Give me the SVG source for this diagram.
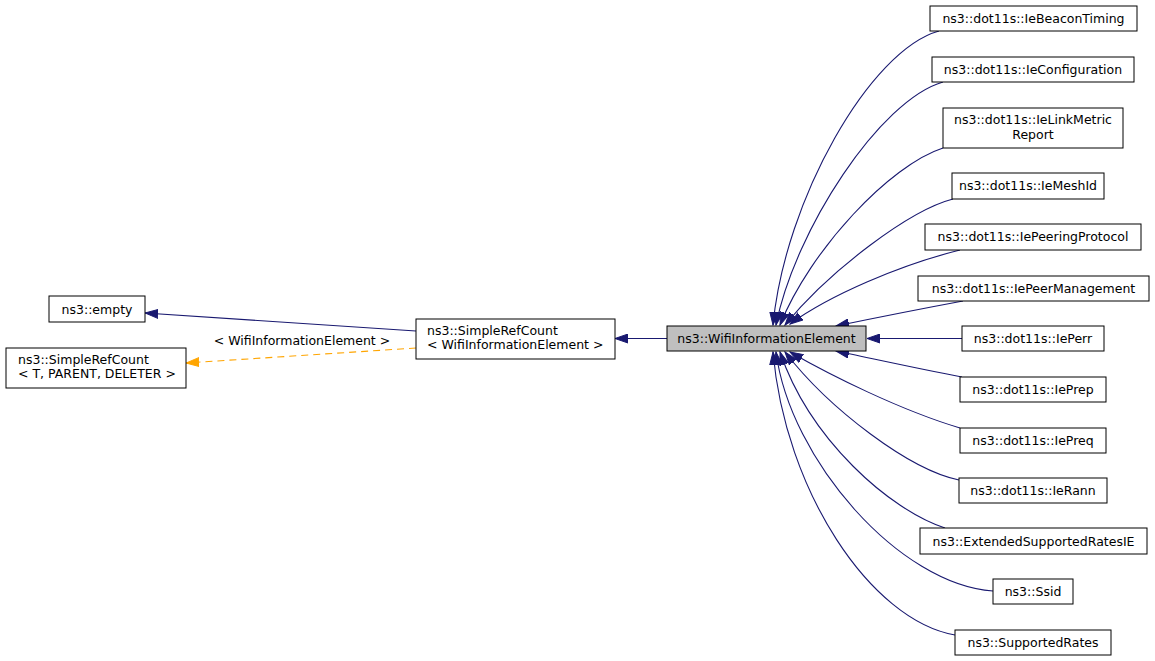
<svg xmlns="http://www.w3.org/2000/svg" width="1155" height="661" viewBox="0 0 1155 661">
<style>
.n rect{fill:#ffffff;stroke:#000000;stroke-width:1}
.n.cur rect{fill:#bfbfbf}
.n text{font-family:"DejaVu Sans","Liberation Sans",sans-serif;font-size:12.5px;fill:#000000}
.c{text-anchor:middle}
.e{fill:none;stroke:#191970;stroke-width:1.1;marker-end:url(#ab)}
.d{fill:none;stroke:#ffa500;stroke-width:1.1;stroke-dasharray:7,5;marker-end:url(#ao)}
.lbl{font-family:"DejaVu Sans","Liberation Sans",sans-serif;font-size:12.5px;fill:#000000;text-anchor:middle}
</style>
<defs>
<marker id="ab" markerUnits="userSpaceOnUse" markerWidth="14" markerHeight="10" refX="13" refY="5" orient="auto">
<path d="M0,0.5 L13,5 L0,9.5 Z" fill="#191970" stroke="#191970" stroke-width="1"/>
</marker>
<marker id="ao" markerUnits="userSpaceOnUse" markerWidth="14" markerHeight="10" refX="13" refY="5" orient="auto">
<path d="M0,0.5 L13,5 L0,9.5 Z" fill="#ffa500" stroke="#ffa500" stroke-width="1"/>
</marker>
</defs>
<g id="connectors">
<path class="e" d="M416,331 L145,313"/>
<path class="d" d="M416,348 L186,363"/>
<text class="lbl" x="302" y="345">&lt; WifiInformationElement &gt;</text>
<path class="e" d="M667,338.5 L615,338.5"/>
<path class="e" d="M939,31 C870,50 785,200 773,325"/>
<path class="e" d="M943,82 C880,100 795,230 776,325"/>
<path class="e" d="M943,148 C890,165 810,250 780,325"/>
<path class="e" d="M953,199 C910,210 830,270 785,325"/>
<path class="e" d="M960,250 C900,265 830,295 790,324"/>
<path class="e" d="M963,301 C920,309 870,319 836,326"/>
<path class="e" d="M962,338.5 L867,338.5"/>
<path class="e" d="M962,377 C920,369 870,358 836,351"/>
<path class="e" d="M960,428 C900,410 830,375 790,352"/>
<path class="e" d="M959,480 C910,470 830,410 785,352"/>
<path class="e" d="M945,528 C890,510 810,440 780,352"/>
<path class="e" d="M993,591 C900,585 790,460 776,352"/>
<path class="e" d="M955,635 C870,620 785,490 773,352"/>
</g>
<g id="empty" class="n"><rect x="49" y="296" width="96" height="26"/><text class="c" x="97" y="313.5">ns3::empty</text></g>
<g id="SimpleRefCountT" class="n"><rect x="6" y="348" width="180" height="40"/><text x="18" y="364">ns3::SimpleRefCount</text><text x="18" y="378">&lt; T, PARENT, DELETER &gt;</text></g>
<g id="SimpleRefCountW" class="n"><rect x="416" y="319" width="199" height="40"/><text x="427" y="335">ns3::SimpleRefCount</text><text x="427" y="349">&lt; WifiInformationElement &gt;</text></g>
<g id="WifiInformationElement" class="n cur"><rect x="667" y="326" width="199" height="25"/><text class="c" x="766.5" y="343">ns3::WifiInformationElement</text></g>
<g id="IeBeaconTiming" class="n"><rect x="930" y="6" width="207" height="25"/><text class="c" x="1033.5" y="23">ns3::dot11s::IeBeaconTiming</text></g>
<g id="IeConfiguration" class="n"><rect x="932" y="57" width="202" height="25"/><text class="c" x="1033" y="74">ns3::dot11s::IeConfiguration</text></g>
<g id="IeLinkMetricReport" class="n"><rect x="943" y="108" width="180" height="40"/><text class="c" x="1033" y="124">ns3::dot11s::IeLinkMetric</text><text class="c" x="1033" y="138.5">Report</text></g>
<g id="IeMeshId" class="n"><rect x="952" y="173" width="152" height="26"/><text class="c" x="1028" y="190">ns3::dot11s::IeMeshId</text></g>
<g id="IePeeringProtocol" class="n"><rect x="925" y="224" width="216" height="26"/><text class="c" x="1033" y="241">ns3::dot11s::IePeeringProtocol</text></g>
<g id="IePeerManagement" class="n"><rect x="918" y="276" width="231" height="25"/><text class="c" x="1033.5" y="293">ns3::dot11s::IePeerManagement</text></g>
<g id="IePerr" class="n"><rect x="962" y="326" width="142" height="25"/><text class="c" x="1033" y="343">ns3::dot11s::IePerr</text></g>
<g id="IePrep" class="n"><rect x="960" y="377" width="146" height="25"/><text class="c" x="1033" y="394">ns3::dot11s::IePrep</text></g>
<g id="IePreq" class="n"><rect x="960" y="428" width="146" height="25"/><text class="c" x="1033" y="445">ns3::dot11s::IePreq</text></g>
<g id="IeRann" class="n"><rect x="959" y="478" width="148" height="25"/><text class="c" x="1033" y="495">ns3::dot11s::IeRann</text></g>
<g id="ExtendedSupportedRatesIE" class="n"><rect x="920" y="528" width="227" height="26"/><text class="c" x="1033.5" y="545.5">ns3::ExtendedSupportedRatesIE</text></g>
<g id="Ssid" class="n"><rect x="993" y="579" width="80" height="25"/><text class="c" x="1033" y="596">ns3::Ssid</text></g>
<g id="SupportedRates" class="n"><rect x="955" y="630" width="156" height="25"/><text class="c" x="1033" y="647">ns3::SupportedRates</text></g>
</svg>
